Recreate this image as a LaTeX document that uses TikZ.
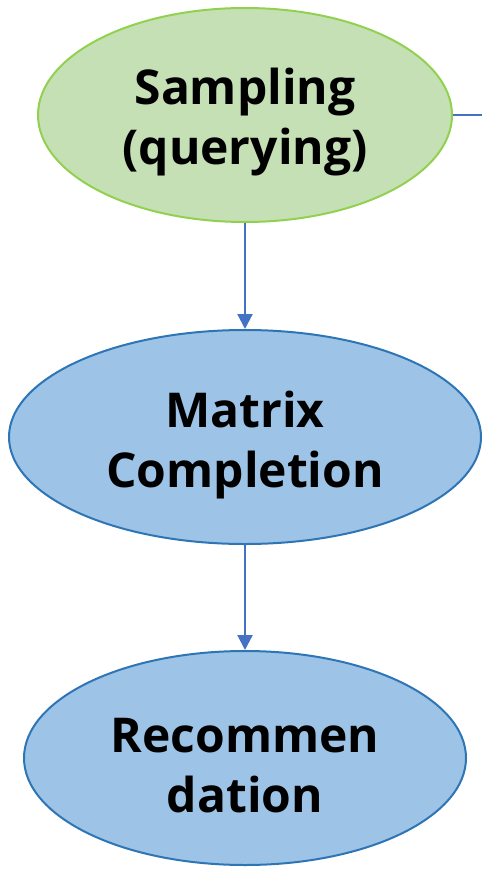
\documentclass[tikz,border=0pt]{standalone}
\usepackage{fontspec}
\setmainfont{Open Sans}[BoldFont={* Bold}]
\usetikzlibrary{arrows.meta,shapes.geometric}
\definecolor{gfill}{HTML}{C5E0B4}
\definecolor{gline}{HTML}{92D050}
\definecolor{bfill}{HTML}{9DC3E6}
\definecolor{bline}{HTML}{2E75B6}
\definecolor{arr}{HTML}{4472C4}
\tikzset{
  ell/.style={draw, line width=2pt, ellipse, inner sep=0pt, minimum height=214pt},
  lbl/.style={inner sep=0pt, align=center, text=black,
    font=\fontsize{48}{60}\selectfont\bfseries},
  conn/.style={arr, line width=2.2pt, -{Triangle[length=15pt,width=15pt]}},
}
\begin{document}
\begin{tikzpicture}[x=1pt,y=-1pt]
\useasboundingbox (0,0) rectangle (482,870);
\node[ell, gline, fill=gfill, minimum width=414pt] (s) at (245,115) {};
\node[ell, bline, fill=bfill, minimum width=472pt] (m) at (245,437) {};
\node[ell, bline, fill=bfill, minimum width=442pt] (r) at (245,758) {};
\node[lbl] (st) at ([yshift=-7pt]s.center) {Sampling\\(querying)};
\node[lbl] (mt) at ([yshift=-8pt]m.center) {Matrix\\Completion};
\node[lbl] (rt) at ([yshift=-8pt]r.center) {Recommen\\dation};
\coordinate (edge) at (482,115);
\draw[conn] (s.south) -- (m.north);
\draw[conn] (m.south) -- (r.north);
\draw[arr, line width=2.2pt] (s.east) -- (edge);
\end{tikzpicture}
\end{document}
